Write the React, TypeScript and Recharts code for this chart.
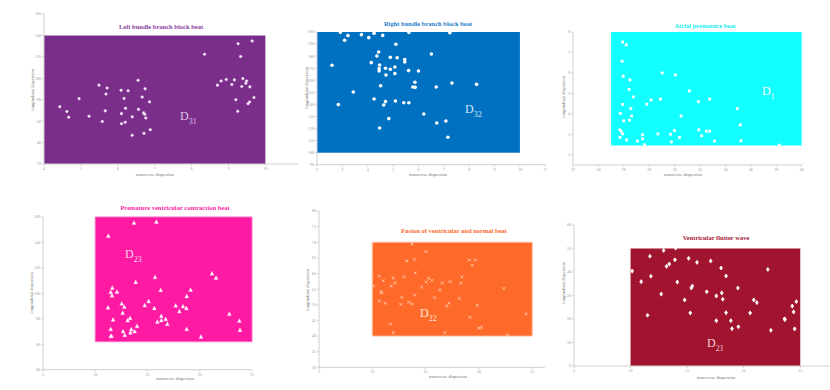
import React from 'react';
import { ReferenceArea, Scatter, ScatterChart, XAxis, YAxis } from 'recharts';

type Pt = [number, number];

// 左束支ブロック
const lbbbPoints: Pt[] = [
  [4.43, 73.5], [4.62, 69], [4.67, 63.7], [4.95, 81], [5.22, 64.6], [5.49, 93.6], [5.58, 59.7],
  [5.66, 69.6], [5.68, 85.3], [5.71, 90.9], [6.09, 88.8], [6.17, 81.2], [6.1, 67], [6.1, 57.6],
  [6.21, 72], [6.2, 59], [6.28, 88.3], [6.39, 64], [6.39, 46.8], [6.55, 98.2], [6.56, 71],
  [6.66, 82.5], [6.7, 67.7], [6.73, 66.4], [6.74, 90.2], [6.76, 63], [6.71, 48.6], [6.86, 78],
  [6.88, 52], [8.35, 122.5], [8.7, 93.6], [8.8, 97.5], [8.94, 98.8], [9.09, 94.2], [9.16, 98.5],
  [9.2, 80], [9.25, 69.2], [9.26, 132.3], [9.33, 120.3], [9.36, 92.3], [9.39, 99.7], [9.47, 95.4],
  [9.49, 97.5], [9.53, 76.3], [9.57, 77.9], [9.58, 92], [9.64, 134.8], [9.69, 82.1],
];

const rbbbPoints: Pt[] = [
  [2.92, 199.7], [3.22, 197], [3.09, 193.1], [3.75, 197.8], [4.04, 195.3], [4.25, 198.9],
  [4.59, 197.2], [5.62, 199.7], [7.24, 199.4], [5.11, 189.8], [4.43, 183.4], [4.36, 180.1],
  [6.51, 181.8], [4.89, 179], [5.16, 178.7], [5.46, 177.1], [5.46, 175.1], [4.14, 174.6],
  [2.59, 172.4], [4.47, 172.7], [4.45, 169.6], [4.7, 169.9], [5.07, 171], [4.89, 169.1],
  [4.45, 167.7], [5.61, 168], [6.0, 167.7], [5.07, 165.5], [4.72, 164.4], [5.86, 158.3],
  [7.32, 157.7], [8.29, 156.6], [4.51, 155.5], [5.78, 154.4], [5.87, 154.1], [6.7, 154.4],
  [3.43, 150.3], [4.25, 144.5], [4.7, 142.3], [4.63, 139.5], [5.09, 142.8], [5.42, 141.4],
  [5.62, 141.4], [2.84, 139.8], [6.21, 132], [4.83, 128.2], [7.08, 126.2], [6.72, 124.6],
  [4.47, 120.4], [7.16, 112.7],
];

const apbPoints: Pt[] = [
  [25.9, 7.51], [26.19, 7.37], [25.87, 6.57], [25.95, 5.84], [26.48, 5.66], [26.42, 5.19],
  [26.76, 4.83], [25.9, 4.46], [26.55, 4.26], [25.72, 4.02], [26.61, 3.9], [25.98, 3.66],
  [26.45, 3.69], [25.69, 3.22], [25.8, 3.14], [25.9, 3.02], [25.69, 2.85], [26.21, 2.73],
  [27.08, 2.67], [27.47, 2.98], [27.47, 2.78], [27.63, 2.49], [27.81, 4.47], [28.15, 4.68],
  [28.88, 4.72], [29.02, 6.0], [30.06, 5.9], [28.68, 3.02], [29.67, 3.0], [29.75, 2.63],
  [29.98, 3.19], [30.38, 2.85], [30.51, 3.89], [31.16, 5.12], [31.87, 4.59], [31.9, 3.22],
  [32.13, 2.93], [32.5, 3.15], [32.76, 3.15], [32.76, 4.72], [33.13, 2.67], [34.93, 4.26],
  [35.17, 3.46], [35.22, 2.68], [38.23, 2.47],
];

const pvcPoints: Pt[] = [
  [13.71, 155.3], [15.85, 156.1], [11.25, 145], [15.72, 112.6], [13.87, 108.7], [21.17, 115.5],
  [21.56, 112.1], [16.26, 102.4], [19.13, 102.6], [11.63, 104.2], [11.48, 100.8], [12.08, 101.1],
  [11.6, 98.2], [18.75, 97.6], [15.11, 93.7], [12.53, 91.8], [14.73, 90.5], [12.78, 89.2],
  [11.22, 88.7], [15.65, 88.2], [17.7, 90.3], [18.4, 89.7], [18.72, 88.2], [18.05, 85.8],
  [12.62, 84.5], [16.32, 82.1], [22.83, 83.7], [13.33, 80.5], [11.7, 79.2], [13.1, 78.7],
  [16.32, 78.7], [16.74, 79.7], [15.94, 77.4], [16.9, 75.8], [23.79, 78.2], [14.0, 74.2],
  [11.48, 71.8], [18.75, 71.8], [23.85, 71.1], [13.45, 71.6], [12.66, 70], [13.77, 70],
  [13.36, 69], [12.82, 67.1], [11.57, 66.3], [11.48, 66.3], [20.12, 65.8],
];

const fusionPoints: Pt[] = [
  [9.97, 69.3], [13.72, 69.4], [15.03, 67], [13.25, 64], [13.94, 64.5], [19.09, 64.3],
  [19.66, 64.3], [19.38, 62.7], [14.03, 60.2], [10.66, 59.2], [9.97, 59.5], [11.97, 58.5],
  [13, 58.9], [15.28, 58.5], [18.4, 58.9], [11.03, 57.7], [15.59, 57.8], [15.06, 57.3],
  [16.56, 57], [17.31, 57.4], [18.31, 56.9], [12.13, 57], [10.09, 56], [11.78, 56],
  [14.63, 55.6], [16.34, 54.8], [22.34, 55.2], [10.84, 54.2], [10.88, 53.8], [13.97, 53.1],
  [12.78, 52.3], [15.84, 52.3], [18.16, 52], [10.66, 51.2], [11.22, 50.5], [12.66, 50.1],
  [13.41, 50.8], [13.72, 50.3], [17.19, 50.5], [16.97, 49.5], [19.84, 49.9], [24.41, 47.1],
  [19.16, 46], [11.72, 43.8], [20, 42.5], [20.25, 42.8], [11.97, 41.1], [16.81, 41.1],
  [22.69, 40.3],
];

const flutterPoints: Pt[] = [
  [12.92, 49.2], [13.98, 50.2], [11.71, 46.7], [13.92, 45.2], [15.13, 45.8], [15.87, 44.1],
  [17.08, 44.7], [13.42, 43.4], [13.18, 42.4], [18.0, 41.7], [22.13, 41.1], [10.14, 40.4],
  [11.79, 38.2], [18.44, 38.3], [10.94, 35.9], [14.13, 35.7], [15.46, 34], [15.37, 33.2],
  [19.48, 33.2], [16.73, 31.6], [18.06, 31.1], [12.71, 30.6], [17.58, 29.8], [18.15, 28.4],
  [14.78, 28.1], [20.89, 28.1], [21.16, 27], [24.65, 27.4], [24.29, 25.5], [24.41, 23],
  [15.28, 22.6], [18.44, 22.7], [20.57, 22.6], [11.5, 21.6], [23.61, 20.1], [23.64, 19.7],
  [17.58, 19.3], [18.86, 19.3], [19.53, 16.7], [18.97, 15.9], [22.4, 15.2], [24.5, 15.8],
];

const YW = 20;
const XH = 16;
const MT = 4;
const MR = 2;

const dot = (r: number, fill: string, stroke?: string) => (p: any) =>
  <circle cx={p.cx} cy={p.cy} r={r} fill={fill} stroke={stroke ?? 'none'} strokeWidth={0.6} />;

const square = (s: number) => (p: any) =>
  <rect x={p.cx - s / 2} y={p.cy - s / 2} width={s} height={s} fill="#fff" />;

const tri = (s: number) => (p: any) => (
  <polygon
    points={`${p.cx},${p.cy - s * 0.6} ${p.cx - s / 2},${p.cy + s * 0.4} ${p.cx + s / 2},${p.cy + s * 0.4}`}
    fill="#fff"
    stroke="#ffd0ea"
    strokeWidth={0.4}
  />
);

const xmark = (s: number) => (p: any) => (
  <g stroke="#ffd2b8" strokeWidth={0.8}>
    <line x1={p.cx - s} y1={p.cy - s} x2={p.cx + s} y2={p.cy + s} />
    <line x1={p.cx - s} y1={p.cy + s} x2={p.cx + s} y2={p.cy - s} />
  </g>
);

const plus = (s: number) => (p: any) => (
  <g fill="#fff">
    <rect x={p.cx - s * 0.4} y={p.cy - s} width={s * 0.8} height={s * 2} rx={0.6} />
    <rect x={p.cx - s * 0.8} y={p.cy - s * 0.35} width={s * 1.6} height={s * 0.7} />
  </g>
);

interface PanelProps {
  box: [number, number, number, number];
  xDomain: [number, number];
  yDomain: [number, number];
  xTicks: number[];
  yTicks: number[];
  area: [number, number, number, number];
  color: string;
  areaStroke?: string;
  points: Pt[];
  shape: any;
}

function Panel({ box, xDomain, yDomain, xTicks, yTicks, area, color, areaStroke, points, shape }: PanelProps) {
  const [x0, x1, y0, y1] = box;
  const data = points.map(([x, y]) => ({ x, y }));
  const tick = { fontSize: 4, fill: '#999', fontFamily: 'serif' };
  return (
    <div style={{ position: 'absolute', left: x0 - YW, top: y0 - MT }}>
      <ScatterChart
        width={x1 - x0 + YW + MR}
        height={y1 - y0 + MT + XH}
        margin={{ top: MT, right: MR, left: 0, bottom: 0 }}
      >
        <XAxis
          type="number"
          dataKey="x"
          domain={xDomain}
          ticks={xTicks}
          allowDataOverflow
          height={XH}
          tick={tick}
          tickSize={2}
          tickMargin={1}
          stroke="#d0d0d0"
        />
        <YAxis
          type="number"
          dataKey="y"
          domain={yDomain}
          ticks={yTicks}
          allowDataOverflow
          width={YW}
          tick={tick}
          tickSize={2}
          tickMargin={1}
          stroke="#d0d0d0"
        />
        <ReferenceArea
          x1={area[0]}
          x2={area[1]}
          y1={area[2]}
          y2={area[3]}
          fill={color}
          fillOpacity={1}
          stroke={areaStroke ?? 'none'}
          strokeWidth={1}
        />
        <Scatter data={data} shape={shape} isAnimationActive={false} />
      </ScatterChart>
    </div>
  );
}

const abs = (left: number, top: number, extra: React.CSSProperties = {}): React.CSSProperties => ({
  position: 'absolute',
  left,
  top,
  whiteSpace: 'nowrap',
  fontFamily: '"Liberation Serif", "DejaVu Serif", serif',
  ...extra,
});

function Title({ x, y, color, text }: { x: number; y: number; color: string; text: string }) {
  return (
    <div style={abs(x, y, { transform: 'translate(-50%,-50%)', color, fontSize: 6.5, fontWeight: 'bold', lineHeight: '8px' })}>
      {text}
    </div>
  );
}

function XLabel({ x, y }: { x: number; y: number }) {
  return (
    <div style={abs(x, y, { transform: 'translate(-50%,-50%)', color: '#777', fontSize: 4.5, lineHeight: '5px' })}>
      transverse dispersion
    </div>
  );
}

function YLabel({ x, y }: { x: number; y: number }) {
  return (
    <div style={abs(x, y, { transform: 'translate(-50%,-50%) rotate(-90deg)', color: '#777', fontSize: 4.5, lineHeight: '5px' })}>
      longitudinal dispersion
    </div>
  );
}

function DLabel({ x, y, sub, color }: { x: number; y: number; sub: string; color: string }) {
  return (
    <div style={abs(x, y - 7, { color, fontSize: 12, lineHeight: '12px' })}>
      D<span style={{ fontSize: 8, position: 'relative', top: 4 }}>{sub}</span>
    </div>
  );
}

export default function App() {
  return (
    <div style={{ position: 'absolute', left: 0, top: 0, width: 830, height: 390, background: '#fff', overflow: 'hidden' }}>
      <Panel
        box={[44, 298.6, 14, 164]}
        xDomain={[4, 10.9]}
        yDomain={[20, 160]}
        xTicks={[4, 5, 6, 7, 8, 9, 10]}
        yTicks={[20, 40, 60, 80, 100, 120, 140, 160]}
        area={[4, 10, 20, 140]}
        color="#7B2D8A"
        points={lbbbPoints}
        shape={dot(1.3, '#fff', '#d8b8e0')}
      />
      <Panel
        box={[316.7, 545, 32.3, 165]}
        xDomain={[2, 11]}
        yDomain={[90, 200]}
        xTicks={[2, 3, 4, 5, 6, 7, 8, 9, 10, 11]}
        yTicks={[90, 100, 110, 120, 130, 140, 150, 160, 170, 180, 190, 200]}
        area={[2, 10, 100, 200]}
        color="#0070C0"
        points={rbbbPoints}
        shape={dot(1.8, '#fff')}
      />
      <Panel
        box={[573.3, 802, 32, 165]}
        xDomain={[22, 40]}
        yDomain={[1.5, 8]}
        xTicks={[22, 24, 26, 28, 30, 32, 34, 36, 38, 40]}
        yTicks={[2, 3, 4, 5, 6, 7, 8]}
        area={[25, 40, 2.45, 8]}
        color="#13FFFF"
        points={apbPoints}
        shape={square(2.8)}
      />
      <Panel
        box={[43.3, 252.3, 217.3, 370]}
        xDomain={[5, 25]}
        yDomain={[40, 160]}
        xTicks={[5, 10, 15, 20, 25]}
        yTicks={[40, 60, 80, 100, 120, 140, 160]}
        area={[10, 25, 62, 160]}
        color="#FF1AA4"
        areaStroke="#ff6cc4"
        points={pvcPoints}
        shape={tri(3.8)}
      />
      <Panel
        box={[319, 545, 211, 367.3]}
        xDomain={[5, 26.2]}
        yDomain={[30, 80]}
        xTicks={[5, 10, 15, 20, 25]}
        yTicks={[30, 35, 40, 45, 50, 55, 60, 65, 70, 75, 80]}
        area={[10, 25, 40, 70]}
        color="#FF6A2B"
        areaStroke="#ffb89a"
        points={fusionPoints}
        shape={xmark(1.4)}
      />
      <Panel
        box={[574.3, 830, 225, 366]}
        xDomain={[5, 27.6]}
        yDomain={[0, 60]}
        xTicks={[5, 10, 15, 20, 25]}
        yTicks={[0, 10, 20, 30, 40, 50, 60]}
        area={[10, 25, 0, 50]}
        color="#A01430"
        points={flutterPoints}
        shape={plus(2.1)}
      />

      <Title x={161} y={27} color="#8E3DA5" text="Left bundle branch block beat" />
      <Title x={428} y={24} color="#1F80CC" text="Right bundle branch block beat" />
      <Title x={705} y={25.7} color="#22EEF5" text="Atrial premature beat" />
      <Title x={175} y={207.7} color="#FF1FA5" text="Premature ventricular contraction beat" />
      <Title x={454} y={231} color="#FF6A2B" text="Fusion of ventricular and normal beat" />
      <Title x={716} y={238.3} color="#A8193A" text="Ventricular flutter wave" />

      <YLabel x={32} y={90} />
      <YLabel x={306} y={88} />
      <YLabel x={563} y={97} />
      <YLabel x={31} y={293} />
      <YLabel x={307} y={290} />
      <YLabel x={563} y={283} />

      <XLabel x={155} y={174} />
      <XLabel x={428} y={174} />
      <XLabel x={683} y={174} />
      <XLabel x={175} y={378} />
      <XLabel x={448} y={376} />
      <XLabel x={716} y={377} />

      <DLabel x={180} y={117} sub="31" color="#DCC6E6" />
      <DLabel x={465} y={110} sub="32" color="#D2E6F6" />
      <DLabel x={762} y={92} sub="1" color="#F0FFFF" />
      <DLabel x={125} y={255} sub="23" color="#FFD6EE" />
      <DLabel x={420} y={314} sub="22" color="#FFE6D8" />
      <DLabel x={707} y={343.5} sub="21" color="#F2D2DA" />
    </div>
  );
}
